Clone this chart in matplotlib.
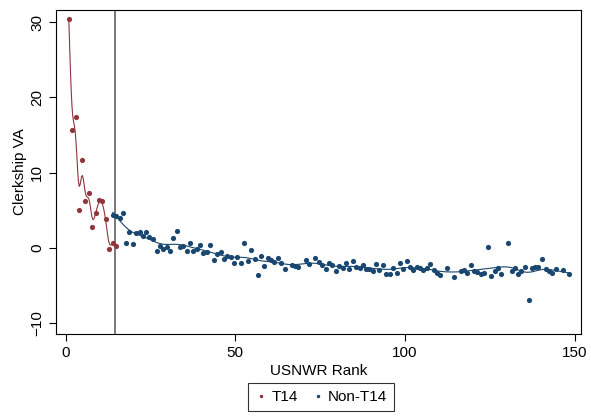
import numpy as np
import matplotlib
matplotlib.use("Agg")
import matplotlib.pyplot as plt
from matplotlib.lines import Line2D

plt.rcParams['font.family'] = ['Liberation Sans', 'DejaVu Sans']

# T14 schools
t14_rank = [0.97, 1.94, 2.94, 3.91, 4.88, 5.88, 6.94, 7.94, 8.91, 9.88,
            10.88, 11.85, 12.82, 13.91, 14.88]
t14_va = [30.4, 15.7, 17.4, 5.1, 11.7, 6.2, 7.3, 2.8, 4.7, 6.4,
          6.2, 3.9, -0.1, 0.7, 0.3]

# everyone else
other_rank = [13.9, 14.9, 15.9, 16.9, 17.8, 18.8, 19.8, 20.8, 21.8, 22.7,
              23.7, 24.7, 25.7, 26.9, 27.8, 28.8, 29.8, 30.8, 31.8, 32.7,
              33.7, 34.7, 35.7, 36.7, 37.6, 38.6, 39.6, 40.6, 41.6, 42.7,
              43.7, 44.7, 45.7, 46.7, 47.6, 48.6, 49.6, 50.6, 51.6, 52.5,
              53.7, 54.7, 55.7, 56.6, 57.6, 58.6, 59.6, 60.6, 61.5, 62.6,
              63.6, 64.6, 66.6, 67.5, 68.5, 70.7, 71.6, 73.6, 74.6, 75.6,
              76.6, 77.5, 78.5, 79.6, 80.6, 81.6, 82.5, 83.5, 84.6, 85.6,
              86.6, 87.5, 88.5, 89.5, 90.5, 91.5, 92.4, 93.5, 94.5, 95.5,
              96.5, 97.5, 98.5, 99.5, 100.5, 101.5, 102.4, 103.4, 104.4, 105.4,
              106.4, 107.4, 108.4, 109.4, 110.4, 112.4, 114.4, 116.4, 117.4, 118.3,
              119.3, 120.3, 121.3, 122.3, 123.3, 124.4, 125.4, 126.4, 127.4, 128.3,
              130.4, 131.4, 132.4, 133.3, 134.3, 135.4, 136.4, 137.4, 138.3, 139.3,
              140.4, 141.4, 142.4, 143.3, 144.4, 146.5, 148.4]
other_va = [4.42, 4.28, 4.02, 4.6, 0.74, 2.16, 0.53, 1.94, 2.07, 1.63,
            2.07, 1.5, 1.27, -0.4, 0.3, -0.13, 0.17, -0.36, 1.33, 2.3,
            0.17, 0.3, -0.45, 0.74, -0.36, -0.13, 0.44, -0.72, -0.49, 0.44,
            -1.6, -0.8, -0.49, -1.46, -1.02, -1.25, -2.04, -1.25, -2.04, 0.74,
            -1.68, -0.23, -1.46, -3.54, -1.11, -2.35, -1.38, -1.6, -1.82, -1.38,
            -2.04, -2.84, -2.21, -2.35, -2.57, -1.55, -2.17, -1.38, -1.82, -2.3,
            -2.84, -2.04, -2.21, -3.0, -2.35, -2.7, -2.04, -2.84, -1.72, -2.48,
            -2.7, -2.21, -2.79, -2.79, -3.05, -2.17, -2.92, -2.3, -3.41, -3.5,
            -2.61, -3.28, -1.99, -2.84, -1.68, -2.57, -2.97, -2.57, -2.7, -2.97,
            -2.65, -2.08, -2.97, -3.32, -3.63, -2.7, -3.81, -3.05, -2.97, -3.37,
            -2.3, -3.01, -3.14, -3.5, -3.37, 0.08, -3.77, -3.1, -2.7, -3.45,
            0.61, -3.05, -2.61, -3.5, -3.1, -2.57, -6.9, -2.61, -2.57, -2.57,
            -1.46, -2.84, -3.1, -3.28, -2.84, -2.92, -3.45]

cutoff = 14.5
red = '#90353b'
navy = '#1a476f'


def local_linear(x, y, bw, n=60):
    # gaussian-kernel local linear fit, evaluated on an even grid
    x = np.asarray(x)
    y = np.asarray(y)
    grid = np.linspace(x.min(), x.max(), n)
    fit = []
    for g in grid:
        w = np.exp(-0.5 * ((x - g) / bw) ** 2)
        mx = (w * x).sum() / w.sum()
        my = (w * y).sum() / w.sum()
        b = (w * (x - mx) * (y - my)).sum() / (w * (x - mx) ** 2).sum()
        fit.append(my + b * (g - mx))
    return grid, np.array(fit)


fig = plt.figure(figsize=(5.91, 4.19), dpi=100)
ax = fig.add_axes([0.0948, 0.203, 0.888, 0.773])

gx, gy = local_linear(t14_rank, t14_va, 0.6)
ax.plot(gx, gy, color=red, lw=0.8)
gx, gy = local_linear(other_rank, other_va, 3.0, n=120)
ax.plot(gx, gy, color=navy, lw=0.8)

ax.scatter(t14_rank, t14_va, s=14, color=red, lw=0, zorder=3)
ax.scatter(other_rank, other_va, s=14, color=navy, lw=0, zorder=3)

ax.axvline(cutoff, color='#555555', lw=1.1)

ax.set_xlim(-2.8, 151.8)
ax.set_ylim(-11.4, 31.6)
ax.set_xticks([0, 50, 100, 150])
ax.set_yticks([-10, 0, 10, 20, 30])
ax.tick_params(direction='out', length=5, width=0.8, labelsize=11)
for lab in ax.get_yticklabels():
    lab.set_rotation(90)
    lab.set_va('center')
for s in ax.spines.values():
    s.set_linewidth(0.8)

ax.set_xlabel('USNWR Rank', fontsize=11, labelpad=3)
ax.set_ylabel('Clerkship VA', fontsize=11, labelpad=2)

handles = [Line2D([], [], ls='', marker='o', ms=2.5, color=red, mew=0),
           Line2D([], [], ls='', marker='o', ms=2.5, color=navy, mew=0)]
leg = fig.legend(handles, ['T14', 'Non-T14'], loc='center',
                 bbox_to_anchor=(321 / 591, 1 - 397 / 419), ncol=2,
                 fontsize=11, frameon=True, fancybox=False, edgecolor='black',
                 handletextpad=0.3, columnspacing=0.9, handlelength=0.8,
                 borderpad=0.45)
leg.get_frame().set_linewidth(0.8)

fig.savefig('out.png', dpi=100)
